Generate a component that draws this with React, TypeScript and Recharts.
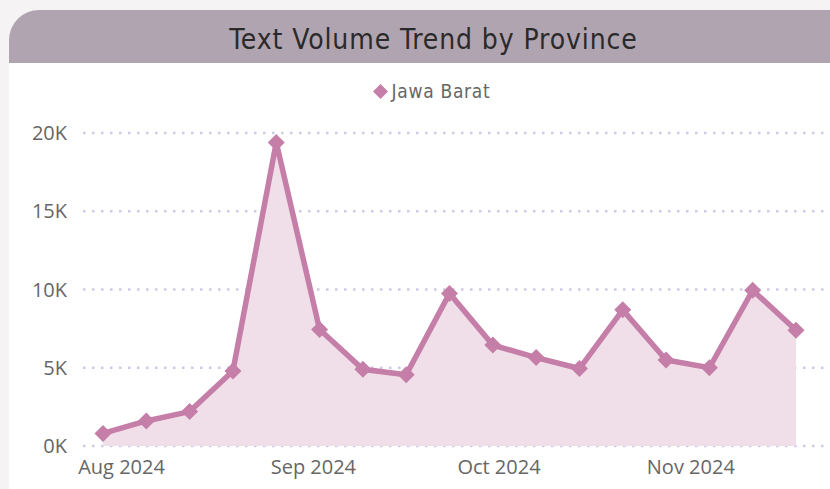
import { ComposedChart, Area, XAxis, YAxis, CartesianGrid, Legend } from 'recharts';

// weekly points (week start dates) and text volume for Jawa Barat
const weeks = [
  '2024-07-29', '2024-08-05', '2024-08-12', '2024-08-19', '2024-08-26',
  '2024-09-02', '2024-09-09', '2024-09-16', '2024-09-23', '2024-09-30',
  '2024-10-07', '2024-10-14', '2024-10-21', '2024-10-28', '2024-11-04',
  '2024-11-11', '2024-11-18',
];
const jawaBarat = [
  800, 1600, 2200, 4800, 19400, 7450, 4900, 4550, 9750, 6450,
  5650, 4950, 8700, 5500, 5000, 9950, 7400,
];
const monthTicks = ['2024-08-01', '2024-09-01', '2024-10-01', '2024-11-01'];
const monthLabels = ['Aug 2024', 'Sep 2024', 'Oct 2024', 'Nov 2024'];
const yTicks = [0, 5000, 10000, 15000, 20000];

const toTs = (d: string) => new Date(d + 'T00:00:00Z').getTime();

const chartData = weeks.map((w, i) => ({ t: toTs(w), value: jawaBarat[i] }));
const tickTs = monthTicks.map(toTs);

const LINE = '#c47ea7';
const FILL = '#f0dfe9';

const Diamond = (props: any) => {
  const { cx, cy } = props;
  if (cx == null || cy == null) return null;
  const r = 8.5;
  return (
    <polygon
      points={`${cx},${cy - r} ${cx + r},${cy} ${cx},${cy + r} ${cx - r},${cy}`}
      fill={LINE}
    />
  );
};

const LegendContent = () => (
  <div style={{ display: 'flex', justifyContent: 'center', alignItems: 'center', paddingLeft: 32, height: 24 }}>
    <svg width={17} height={17} style={{ marginRight: 3 }}>
      <polygon points="8.5,1 16,8.5 8.5,16 1,8.5" fill={LINE} />
    </svg>
    <span
      style={{
        fontFamily: '"DejaVu Sans Condensed", sans-serif', fontSize: 19,
        letterSpacing: 0.7, color: '#666',
      }}
    >
      Jawa Barat
    </span>
  </div>
);

const App = () => {
  return (
    <div
      style={{
        position: 'absolute', left: 0, top: 0, width: 830, height: 489,
        background: '#f6f3f5', overflow: 'hidden',
      }}
    >
      <div
        style={{
          position: 'absolute', left: 9, top: 10, width: 860, height: 510,
          background: '#ffffff', borderRadius: 30, overflow: 'hidden',
        }}
      >
        <div
          style={{
            height: 53, background: '#b1a4b1', width: 821, display: 'flex',
            alignItems: 'center', justifyContent: 'center', paddingLeft: 28, paddingTop: 5,
            boxSizing: 'border-box',
            fontFamily: '"DejaVu Sans Condensed", sans-serif', fontSize: 28,
            letterSpacing: 0.9, color: '#2a2a2a',
          }}
        >
          Text Volume Trend by Province
        </div>
      </div>
      <div style={{ position: 'absolute', left: 0, top: 63 }}>
        <ComposedChart
          width={830}
          height={426}
          data={chartData}
          margin={{ top: 46, right: 0, left: 0, bottom: 0 }}
        >
          <CartesianGrid
            vertical={false}
            stroke="#cdc9e8"
            strokeWidth={2.5}
            strokeDasharray="2.5 6.5"
          />
          <XAxis
            dataKey="t"
            type="number"
            scale="time"
            domain={['dataMin', 'dataMax']}
            ticks={tickTs}
            tickFormatter={(v: number) => monthLabels[tickTs.indexOf(v)] ?? ''}
            padding={{ left: 20, right: 34 }}
            axisLine={false}
            tickLine={false}
            tickSize={0}
            tickMargin={14}
            height={43}
            tick={{ fill: '#666', fontSize: 20, fontFamily: '"Open Sans", sans-serif' }}
          />
          <YAxis
            domain={[0, 20000]}
            ticks={yTicks}
            tickFormatter={(v: number) => `${v / 1000}K`}
            axisLine={false}
            tickLine={false}
            tickSize={0}
            tickMargin={16}
            width={83}
            tick={{ fill: '#666', fontSize: 20, fontFamily: '"Open Sans", sans-serif' }}
          />
          <Legend verticalAlign="top" content={<LegendContent />} wrapperStyle={{ top: 16 }} />
          <Area
            type="linear"
            dataKey="value"
            name="Jawa Barat"
            stroke={LINE}
            strokeWidth={5.5}
            fill={FILL}
            fillOpacity={1}
            dot={<Diamond />}
            activeDot={false}
            isAnimationActive={false}
          />
        </ComposedChart>
      </div>
    </div>
  );
};

export default App;
